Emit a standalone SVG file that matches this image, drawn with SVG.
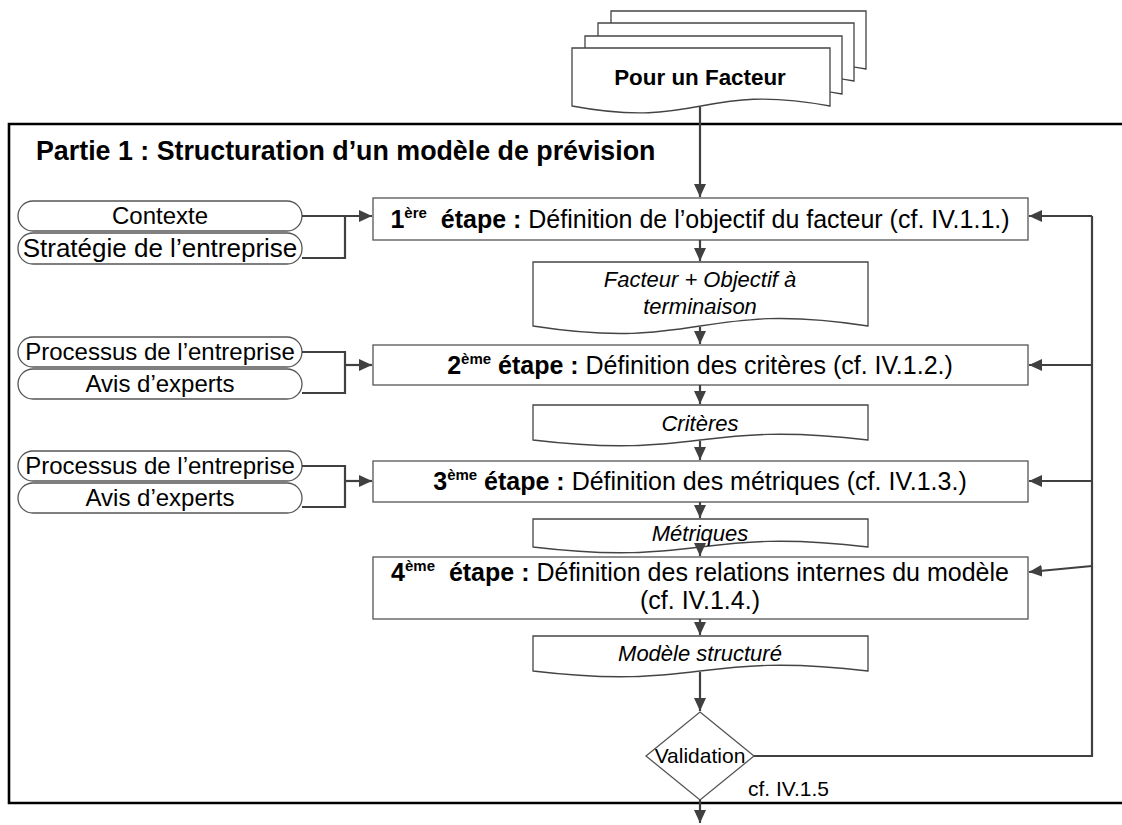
<svg xmlns="http://www.w3.org/2000/svg" width="1122" height="825" viewBox="0 0 1122 825">
<defs>
<marker id="arr" viewBox="0 0 10 10" refX="10" refY="5" markerWidth="13" markerHeight="12" markerUnits="userSpaceOnUse" orient="auto" preserveAspectRatio="none"><path d="M0,0 L10,5 L0,10 z" fill="#404040"/></marker>
<style>
.box{fill:#fff;stroke:#555;stroke-width:1.3}
.pill{fill:#fff;stroke:#555;stroke-width:1.3}
.doc{fill:#fff;stroke:#444;stroke-width:1.3}
.ln{fill:none;stroke:#404040;stroke-width:2.2}
.ar{marker-end:url(#arr)}
.t{font-family:"Liberation Sans",Arial,sans-serif;font-size:24px;fill:#000}
.st{font-size:25px}
.it{font-style:italic;font-size:22px}
.b{font-weight:bold}
.c{text-anchor:middle}
</style>
</defs>
<rect width="1122" height="825" fill="#fff"/>

<g id="frame">
<path d="M1130,124 H9 V803 H1130" fill="none" stroke="#000" stroke-width="2.6"/>
<text class="t b" x="36" y="160" style="font-size:26.8px">Partie 1 : Structuration d’un modèle de prévision</text>
</g>

<g id="pour-un-facteur">
<path class="doc" d="M611,11 H866 V69 C737,45 737,93 611,69 Z"/>
<path class="doc" d="M598,23 H854 V81 C725,57 725,105 598,81 Z"/>
<path class="doc" d="M585,36 H842 V94 C713,70 713,118 585,94 Z"/>
<path class="doc" d="M572,48 H830 V106 C701,82 701,130 572,106 Z"/>
<text class="t b c" x="700" y="85" style="font-size:22.4px">Pour un Facteur</text>
</g>

<g id="contexte"><rect class="pill" x="18" y="201" width="284" height="30" rx="15"/><text class="t c" x="160" y="224">Contexte</text></g>
<g id="strategie"><rect class="pill" x="18" y="233" width="284" height="31" rx="15"/><text class="t c" x="160" y="257" style="font-size:26px">Stratégie de l’entreprise</text></g>
<g id="processus1"><rect class="pill" x="18" y="337" width="284" height="30" rx="15"/><text class="t c" x="160" y="360">Processus de l’entreprise</text></g>
<g id="avis1"><rect class="pill" x="18" y="369" width="284" height="30" rx="15"/><text class="t c" x="160" y="392">Avis d’experts</text></g>
<g id="processus2"><rect class="pill" x="18" y="451" width="284" height="30" rx="15"/><text class="t c" x="160" y="474">Processus de l’entreprise</text></g>
<g id="avis2"><rect class="pill" x="18" y="483" width="284" height="30" rx="15"/><text class="t c" x="160" y="506">Avis d’experts</text></g>

<g id="etape1"><rect class="box" x="373" y="198" width="655" height="42"/>
<text class="t st c" x="700" y="228"><tspan class="b">1</tspan><tspan class="b" font-size="15" dy="-10">ère</tspan><tspan class="b" dy="10">&#160; étape :</tspan> Définition de l’objectif du facteur (cf. IV.1.1.)</text></g>

<g id="doc-objectif"><path class="doc" d="M533,262 H868 V326 C700,300 700,352 533,326 Z"/>
<text class="t it c" x="700" y="287">Facteur + Objectif à</text><text class="t it c" x="700" y="314">terminaison</text></g>

<g id="etape2"><rect class="box" x="373" y="345" width="655" height="40"/>
<text class="t st c" x="700" y="374"><tspan class="b">2</tspan><tspan class="b" font-size="15" dy="-10">ème</tspan><tspan class="b" dy="10"> étape :</tspan> Définition des critères (cf. IV.1.2.)</text></g>

<g id="doc-criteres"><path class="doc" d="M533,405 H868 V440 C700,420 700,460 533,440 Z"/>
<text class="t it c" x="700" y="431">Critères</text></g>

<g id="etape3"><rect class="box" x="373" y="461" width="655" height="41"/>
<text class="t st c" x="700" y="490"><tspan class="b">3</tspan><tspan class="b" font-size="15" dy="-10">ème</tspan><tspan class="b" dy="10"> étape :</tspan> Définition des métriques (cf. IV.1.3.)</text></g>

<g id="doc-metriques"><path class="doc" d="M533,519 H868 V547 C700,527 700,567 533,547 Z"/>
<text class="t it c" x="700" y="541">Métriques</text></g>

<g id="etape4"><rect class="box" x="373" y="557" width="655" height="62"/>
<text class="t st c" x="700" y="581"><tspan class="b">4</tspan><tspan class="b" font-size="15" dy="-10">ème</tspan><tspan class="b" dy="10">&#160; étape :</tspan> Définition des relations internes du modèle</text>
<text class="t st c" x="700" y="609">(cf. IV.1.4.)</text></g>

<g id="doc-modele"><path class="doc" d="M533,636 H868 V671 C700,651 700,691 533,671 Z"/>
<text class="t it c" x="700" y="661">Modèle structuré</text></g>

<g id="validation"><path class="box" d="M700,712 L754,756 L700,800 L646,756 Z"/>
<text class="t c" x="700" y="763" style="font-size:21px">Validation</text>
<text class="t" x="748" y="796" style="font-size:21px">cf. IV.1.5</text></g>

<g id="connectors">
<path class="ln ar" d="M700,107 V197"/>
<path class="ln ar" d="M700,240 V261"/>
<path class="ln ar" d="M700,327 V344"/>
<path class="ln ar" d="M700,385 V404"/>
<path class="ln ar" d="M700,441 V460"/>
<path class="ln ar" d="M700,502 V518"/>
<path class="ln ar" d="M700,548 V556"/>
<path class="ln ar" d="M700,619 V635"/>
<path class="ln ar" d="M700,672 V711"/>
<path class="ln ar" d="M700,800 V823"/>
<path class="ln ar" d="M302,216 H372"/>
<path class="ln" d="M302,258 H345 V216"/>
<path class="ln" d="M302,352 H345 V393 H302"/>
<path class="ln ar" d="M345,365 H372"/>
<path class="ln" d="M302,466 H345 V507 H302"/>
<path class="ln ar" d="M345,481 H372"/>
<path class="ln" d="M754,756 H1092 V216"/>
<path class="ln ar" d="M1092,216 H1029"/>
<path class="ln ar" d="M1092,365 H1029"/>
<path class="ln ar" d="M1092,481 H1029"/>
<path class="ln ar" d="M1092,566 L1029,572"/>
</g>
</svg>
